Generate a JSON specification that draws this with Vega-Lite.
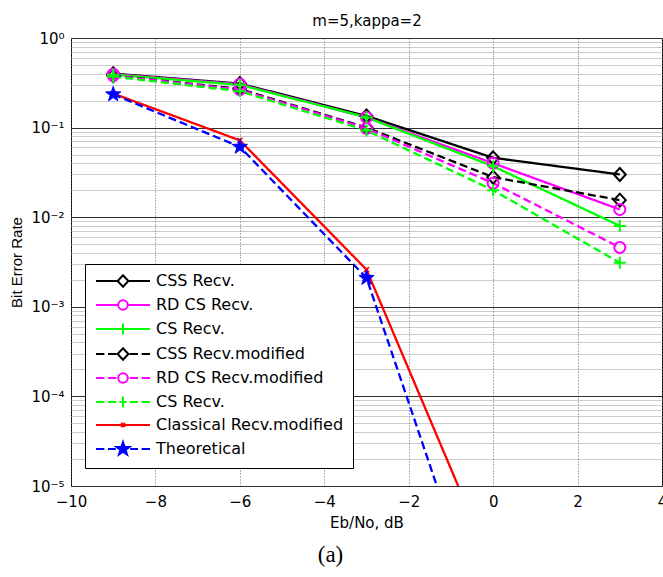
{
  "$schema": "https://vega.github.io/schema/vega-lite/v6.json",
  "width": 591,
  "height": 448,
  "autosize": {"type": "none"},
  "padding": {"left": 71, "top": 38, "right": 1, "bottom": 91},
  "background": "white",
  "title": {"text": "(a)", "orient": "bottom", "anchor": "middle", "dx": -36, "offset": 14, "font": "Liberation Serif", "fontSize": 23, "fontWeight": "normal", "color": "#000"},
  "config": {"view": {"stroke": "#000", "strokeWidth": 1}},
  "data": {"values": [
    {"s": "1", "snr": -9, "ber": 0.40}, {"s": "1", "snr": -6, "ber": 0.31}, {"s": "1", "snr": -3, "ber": 0.135}, {"s": "1", "snr": 0, "ber": 0.046}, {"s": "1", "snr": 3, "ber": 0.030},
    {"s": "2", "snr": -9, "ber": 0.395}, {"s": "2", "snr": -6, "ber": 0.305}, {"s": "2", "snr": -3, "ber": 0.13}, {"s": "2", "snr": 0, "ber": 0.040}, {"s": "2", "snr": 3, "ber": 0.0122},
    {"s": "3", "snr": -9, "ber": 0.39}, {"s": "3", "snr": -6, "ber": 0.30}, {"s": "3", "snr": -3, "ber": 0.13}, {"s": "3", "snr": 0, "ber": 0.037}, {"s": "3", "snr": 3, "ber": 0.0080},
    {"s": "4", "snr": -9, "ber": 0.38}, {"s": "4", "snr": -6, "ber": 0.27}, {"s": "4", "snr": -3, "ber": 0.10}, {"s": "4", "snr": 0, "ber": 0.028}, {"s": "4", "snr": 3, "ber": 0.0155},
    {"s": "5", "snr": -9, "ber": 0.38}, {"s": "5", "snr": -6, "ber": 0.265}, {"s": "5", "snr": -3, "ber": 0.098}, {"s": "5", "snr": 0, "ber": 0.024}, {"s": "5", "snr": 3, "ber": 0.0046},
    {"s": "6", "snr": -9, "ber": 0.37}, {"s": "6", "snr": -6, "ber": 0.255}, {"s": "6", "snr": -3, "ber": 0.093}, {"s": "6", "snr": 0, "ber": 0.020}, {"s": "6", "snr": 3, "ber": 0.0031},
    {"s": "7", "snr": -9, "ber": 0.24}, {"s": "7", "snr": -6, "ber": 0.072}, {"s": "7", "snr": -3, "ber": 0.0026}, {"s": "7", "snr": 0, "ber": 0.0000012},
    {"s": "8", "snr": -9, "ber": 0.235}, {"s": "8", "snr": -6, "ber": 0.061}, {"s": "8", "snr": -3, "ber": 0.0021}, {"s": "8", "snr": 0, "ber": 0.00000014}
  ]},
  "resolve": {"axis": {"x": "independent"}},
  "layer": [
    {
      "mark": {"type": "line", "clip": true, "strokeWidth": 2.3},
      "encoding": {
        "x": {"field": "snr", "type": "quantitative", "scale": {"domain": [-10, 4], "nice": false, "zero": false},
          "axis": {"orient": "bottom", "values": [-10, -8, -6, -4, -2, 0, 2, 4], "grid": true, "gridColor": "#606060", "gridDash": [1, 2], "gridWidth": 1, "ticks": false, "domain": false,
            "labelFont": "DejaVu Sans", "labelFontSize": 15, "labelColor": "#000", "labelPadding": 8, "labelFlush": false,
            "title": "Eb/No, dB", "titleFont": "DejaVu Sans", "titleFontSize": 15, "titleFontWeight": "normal", "titleColor": "#000", "titlePadding": 6}},
        "y": {"field": "ber", "type": "quantitative", "scale": {"type": "log", "domain": [0.00001, 1], "nice": false},
          "axis": {"values": [0.00001, 0.00002, 0.00003, 0.00004, 0.00005, 0.00006, 0.00007, 0.00008, 0.00009, 0.0001, 0.0002, 0.0003, 0.0004, 0.0005, 0.0006, 0.0007, 0.0008, 0.0009, 0.001, 0.002, 0.003, 0.004, 0.005, 0.006, 0.007, 0.008, 0.009, 0.01, 0.02, 0.03, 0.04, 0.05, 0.06, 0.07, 0.08, 0.09, 0.1, 0.2, 0.3, 0.4, 0.5, 0.6, 0.7, 0.8, 0.9, 1],
            "labelExpr": "datum.value == 1 ? '10⁰' : datum.value == 0.1 ? '10⁻¹' : datum.value == 0.01 ? '10⁻²' : datum.value == 0.001 ? '10⁻³' : datum.value == 0.0001 ? '10⁻⁴' : datum.value == 0.00001 ? '10⁻⁵' : ''",
            "grid": true,
            "gridColor": {"condition": {"test": "indexof([1, 0.1, 0.01, 0.001, 0.0001, 0.00001], datum.value) >= 0", "value": "#303030"}, "value": "#999999"},
            "gridDash": {"condition": {"test": "indexof([1, 0.1, 0.01, 0.001, 0.0001, 0.00001], datum.value) >= 0", "value": []}, "value": [1, 1]},
            "ticks": false, "domain": false,
            "labelFont": "DejaVu Sans", "labelFontSize": 15, "labelColor": "#000", "labelPadding": 7, "labelFlush": false, "labelOverlap": false,
            "title": "Bit Error Rate", "titleFont": "Liberation Sans", "titleFontSize": 15, "titleFontWeight": "normal", "titleColor": "#000", "titlePadding": 6}},
        "stroke": {"field": "s", "type": "nominal", "scale": {"range": ["#000000", "#ff00ff", "#00ff00", "#000000", "#ff00ff", "#00ff00", "#ff0000", "#0000ff"]}, "legend": null},
        "strokeDash": {"field": "s", "type": "nominal", "scale": {"range": [[1, 0], [1, 0], [1, 0], [8, 4], [8, 4], [8, 4], [1, 0], [8, 4]]}, "legend": null}
      }
    },
    {
      "transform": [{"filter": {"field": "s", "oneOf": ["1", "4"]}}],
      "mark": {"type": "point", "clip": true, "shape": "M0,-6.5L6,0L0,6.5L-6,0Z", "size": 4, "filled": false, "strokeWidth": 2, "opacity": 1},
      "encoding": {
        "x": {"field": "snr", "type": "quantitative", "axis": null},
        "y": {"field": "ber", "type": "quantitative", "scale": {"type": "log"}},
        "stroke": {"field": "s", "type": "nominal", "legend": null}
      }
    },
    {
      "transform": [{"filter": {"field": "s", "oneOf": ["2", "5"]}}],
      "mark": {"type": "point", "clip": true, "shape": "M-5.5,0A5.5,5.5,0,1,0,5.5,0A5.5,5.5,0,1,0,-5.5,0Z", "size": 4, "filled": false, "strokeWidth": 2, "opacity": 1},
      "encoding": {
        "x": {"field": "snr", "type": "quantitative", "axis": null},
        "y": {"field": "ber", "type": "quantitative", "scale": {"type": "log"}},
        "stroke": {"field": "s", "type": "nominal", "legend": null}
      }
    },
    {
      "transform": [{"filter": {"field": "s", "oneOf": ["3", "6"]}}],
      "mark": {"type": "point", "clip": true, "shape": "M-6,0H6M0,-6V6", "size": 4, "filled": false, "strokeWidth": 2, "opacity": 1},
      "encoding": {
        "x": {"field": "snr", "type": "quantitative", "axis": null},
        "y": {"field": "ber", "type": "quantitative", "scale": {"type": "log"}},
        "stroke": {"field": "s", "type": "nominal", "legend": null}
      }
    },
    {
      "transform": [{"filter": {"field": "s", "oneOf": ["7"]}}],
      "mark": {"type": "point", "clip": true, "shape": "M-2.5,-2.5L2.5,2.5M-2.5,2.5L2.5,-2.5", "size": 4, "filled": false, "strokeWidth": 1.5, "opacity": 1},
      "encoding": {
        "x": {"field": "snr", "type": "quantitative", "axis": null},
        "y": {"field": "ber", "type": "quantitative", "scale": {"type": "log"}},
        "stroke": {"field": "s", "type": "nominal", "legend": null}
      }
    },
    {
      "transform": [{"filter": {"field": "s", "oneOf": ["8"]}}],
      "mark": {"type": "point", "clip": true, "shape": "M0,-8L1.881,-2.589L7.609,-2.472L3.043,0.989L4.702,6.472L0,3.2L-4.702,6.472L-3.043,0.989L-7.609,-2.472L-1.881,-2.589Z", "size": 4, "filled": true, "fill": "#0000ff", "stroke": "#0000ff", "strokeWidth": 1, "opacity": 1},
      "encoding": {
        "x": {"field": "snr", "type": "quantitative", "axis": null},
        "y": {"field": "ber", "type": "quantitative", "scale": {"type": "log"}}
      }
    },
    {
      "mark": {"type": "point", "clip": true, "opacity": 0, "filled": false, "size": 144, "strokeWidth": 2},
      "encoding": {
        "x": {"field": "snr", "type": "quantitative",
          "axis": {"orient": "top", "title": "m=5,kappa=2", "labels": false, "ticks": false, "domain": false, "grid": false, "titleFont": "DejaVu Sans", "titleFontSize": 15, "titleFontWeight": "normal", "titleColor": "#000", "titlePadding": 10}},
        "y": {"field": "ber", "type": "quantitative", "scale": {"type": "log"}},
        "color": {"field": "s", "type": "nominal",
          "scale": {"domain": ["1", "2", "3", "4", "5", "6", "7", "8"], "range": ["#000000", "#ff00ff", "#00ff00", "#000000", "#ff00ff", "#00ff00", "#ff0000", "#0000ff"]},
          "legend": {"orient": "none", "legendX": 14, "legendY": 226, "title": null, "direction": "vertical",
            "labelExpr": "['CSS Recv.', 'RD CS Recv.', 'CS Recv.', 'CSS Recv.modified', 'RD CS Recv.modified', 'CS Recv.', 'Classical Recv.modified', 'Theoretical'][toNumber(datum.value) - 1]",
            "labelFont": "DejaVu Sans", "labelFontSize": 16, "labelColor": "#000", "labelLimit": 400,
            "strokeColor": "#000", "fillColor": "#fff", "padding": 9, "rowPadding": 5,
            "symbolSize": 144, "symbolStrokeWidth": 2, "symbolOpacity": 1, "labelOffset": 46}},
        "shape": {"field": "s", "type": "nominal",
          "scale": {"domain": ["1", "2", "3", "4", "5", "6", "7", "8"], "range": [
            "M-1,0H2.6M4.4,0H8M3.5,-0.95L4.4,0L3.5,0.95L2.6,0Z",
            "M-1,0H2.7M4.3,0H8M2.7,0A0.8,0.8,0,1,0,4.3,0A0.8,0.8,0,1,0,2.7,0Z",
            "M-1,0H8M3.5,-0.9V0.9",
            "M-1,0H0.4M1,0H2.4M4.6,0H6M6.6,0H8M3.5,-0.95L4.4,0L3.5,0.95L2.6,0Z",
            "M-1,0H0.4M1,0H2.4M4.6,0H6M6.6,0H8M2.7,0A0.8,0.8,0,1,0,4.3,0A0.8,0.8,0,1,0,2.7,0Z",
            "M-1,0H0.4M1,0H2.4M2.9,0H4.1M4.6,0H6M6.6,0H8M3.5,-0.9V0.9",
            "M-1,0H8M3.2,-0.35L3.8,0.35M3.2,0.35L3.8,-0.35",
            "M-1,0H0.4M1,0H2.3M4.7,0H6M6.6,0H8M3.5,-1.15L3.77,-0.372L4.594,-0.355L3.937,0.142L4.176,0.93L3.5,0.46L2.824,0.93L3.063,0.142L2.406,-0.355L3.23,-0.372Z"
          ]}},
        "fill": {"field": "s", "type": "nominal",
          "scale": {"domain": ["1", "2", "3", "4", "5", "6", "7", "8"], "range": ["transparent", "transparent", "transparent", "transparent", "transparent", "transparent", "transparent", "#0000ff"]}}
      }
    }
  ]
}
